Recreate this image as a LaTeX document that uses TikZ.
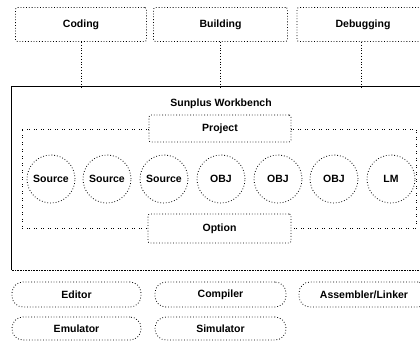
\documentclass[tikz,border=0pt]{standalone}
\usepackage{fontspec}
\setmainfont{Liberation Sans}
\usetikzlibrary{calc}
\begin{document}
\begin{tikzpicture}[x=1pt,y=-1pt,
  every node/.style={font=\fontsize{10.5}{12}\selectfont\bfseries},
  tbox/.style={draw,dotted,line width=0.8pt,rounded corners=2pt,inner sep=0pt},
  pill/.style={draw,dotted,line width=0.8pt,rounded corners=11pt,inner sep=0pt},
  ball/.style={draw,dotted,line width=0.8pt,circle,minimum size=48pt,inner sep=0pt},
  conn/.style={dotted,line width=0.8pt},
  frame/.style={line width=0.8pt,dash pattern=on 1pt off 1pt on 1pt off 4pt}
]
\useasboundingbox (0,0) rectangle (420,341);
\clip (0,0) rectangle (420,341);
% top boxes
\node[tbox,minimum width=131pt,minimum height=34pt] (coding) at (81,24.5) {Coding};
\node[tbox,minimum width=134pt,minimum height=34pt] (building) at (220.5,24.5) {Building};
\node[tbox,minimum width=132pt,minimum height=34pt] (debugging) at (363,24.5) {Debugging};
% big box
\node[draw=none,minimum width=418pt,minimum height=183pt,inner sep=0pt] (big) at (221,178.5) {};
\draw[line width=1.2pt] (big.south west) -- (big.north west) -- (big.north east);
\draw[line width=1.2pt,dash pattern=on 1pt off 0.6pt] (big.south west) -- (big.south east);
\draw[conn] (coding.south) -- (coding.south |- big.north);
\draw[conn] (building.south) -- (building.south |- big.north);
\draw[conn] ($(debugging.south)+(-2,0)$) -- ($(debugging.south |- big.north)+(-2,0)$);
\node (title) at (221,104) {Sunplus Workbench};
% project / option
\node[tbox,minimum width=142pt,minimum height=27pt] (project) at (220,128.5) {Project};
\node[tbox,minimum width=143pt,minimum height=29pt] (option) at (219.5,228.5) {Option};
\coordinate (ftl) at (22,129);
\coordinate (ftr) at (416,129);
\coordinate (fbr) at (416,228);
\coordinate (fbl) at (22,228);
\draw[frame] (project.east |- ftr) -- (ftr) -- (fbr) -- (option.east |- fbr);
\draw[frame] (project.west |- ftl) -- (ftl) -- (fbl) -- (option.west |- fbl);
% circles
\node[ball] (s1) at (51,179) {Source};
\node[ball] (s2) at (107,179) {Source};
\node[ball] (s3) at (164,179) {Source};
\node[ball] (o1) at (221,179) {OBJ};
\node[ball] (o2) at (278,179) {OBJ};
\node[ball] (o3) at (334,179) {OBJ};
\node[ball] (lm) at (391,179) {LM};
% tools
\node[pill,minimum width=129pt,minimum height=25pt] (editor) at (76.5,294.5) {Editor};
\node[pill,minimum width=131pt,minimum height=25pt] (compiler) at (220.5,294.5) {Compiler};
\node[pill,minimum width=130pt,minimum height=25pt] (asm) at (364,294.5) {Assembler/Linker};
\node[pill,minimum width=129pt,minimum height=23pt] (emulator) at (76.5,328.5) {Emulator};
\node[pill,minimum width=131pt,minimum height=23pt] (simulator) at (220.5,328.5) {Simulator};
\end{tikzpicture}
\end{document}
